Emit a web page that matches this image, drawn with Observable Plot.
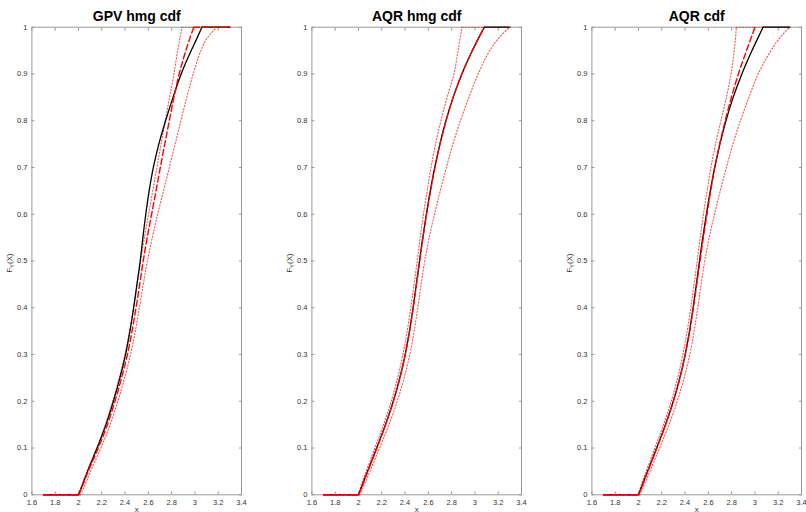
<!DOCTYPE html>
<html>
<head>
<meta charset="utf-8">
<script src="https://cdn.jsdelivr.net/npm/d3@7"></script>
<script src="https://cdn.jsdelivr.net/npm/@observablehq/plot@0.6"></script>
<style>
  html, body { margin: 0; padding: 0; background: #fff; }
  #wrap { position: relative; width: 806px; height: 512px; overflow: hidden; background: #fff; }
  .panel { position: absolute; top: 0; width: 251px; height: 512px; }
  .panel svg { max-width: none !important; }
</style>
</head>
<body>
<div id="wrap"></div>
<script>
// ---- data ----
const titles = ["GPV hmg cdf", "AQR hmg cdf", "AQR cdf"];
const xTicks = [1.6, 1.8, 2, 2.2, 2.4, 2.6, 2.8, 3, 3.2, 3.4];
const yTicks = [0, 0.1, 0.2, 0.3, 0.4, 0.5, 0.6, 0.7, 0.8, 0.9, 1];
const xStart = 1.7;   // data range start (F = 0)
const xEnd = 3.3;     // data range end (F = 1)
const yLevels = [0, 0.02, 0.05, 0.1, 0.15, 0.2, 0.25, 0.3, 0.35, 0.4, 0.45, 0.5, 0.55, 0.6, 0.65, 0.7, 0.75, 0.8, 0.85, 0.9, 0.95, 0.975, 1];

// GPV hmg cdf
const emp1 = [2.0, 2.032, 2.078, 2.16, 2.236, 2.30, 2.356, 2.404, 2.442, 2.474, 2.502, 2.53, 2.553, 2.578, 2.607, 2.643, 2.69, 2.748, 2.812, 2.882, 2.968, 3.015, 3.06];
const fit1 = [2.0, 2.035, 2.083, 2.17, 2.248, 2.313, 2.37, 2.42, 2.46, 2.494, 2.526, 2.556, 2.59, 2.628, 2.666, 2.703, 2.741, 2.78, 2.82, 2.865, 2.922, 2.955, 2.99];
const lo1  = [2.0, 2.029, 2.073, 2.156, 2.231, 2.294, 2.35, 2.399, 2.438, 2.472, 2.504, 2.534, 2.566, 2.602, 2.638, 2.673, 2.709, 2.746, 2.782, 2.82, 2.852, 2.87, 2.89];
const hi1  = [2.015, 2.053, 2.103, 2.192, 2.272, 2.338, 2.396, 2.447, 2.488, 2.523, 2.556, 2.592, 2.634, 2.68, 2.73, 2.78, 2.83, 2.88, 2.93, 2.985, 3.052, 3.10, 3.19];

// AQR hmg cdf
const emp2 = [2.0, 2.031, 2.078, 2.156, 2.232, 2.299, 2.355, 2.401, 2.438, 2.469, 2.497, 2.524, 2.552, 2.583, 2.617, 2.655, 2.699, 2.751, 2.813, 2.888, 2.978, 3.028, 3.08];
const fit2 = [2.0, 2.033, 2.08, 2.158, 2.233, 2.30, 2.356, 2.402, 2.439, 2.47, 2.498, 2.526, 2.554, 2.585, 2.619, 2.657, 2.70, 2.752, 2.813, 2.888, 2.978, 3.028, 3.08];
const lo2  = [2.0, 2.023, 2.066, 2.141, 2.215, 2.281, 2.336, 2.381, 2.418, 2.449, 2.477, 2.504, 2.530, 2.558, 2.589, 2.623, 2.662, 2.708, 2.761, 2.82, 2.855, 2.872, 2.89];
const hi2  = [2.01, 2.046, 2.098, 2.181, 2.262, 2.333, 2.392, 2.441, 2.478, 2.509, 2.538, 2.569, 2.607, 2.653, 2.702, 2.755, 2.811, 2.876, 2.948, 3.028, 3.128, 3.198, 3.3];

// AQR cdf
const emp3 = [2.0, 2.031, 2.078, 2.156, 2.232, 2.299, 2.355, 2.401, 2.438, 2.469, 2.497, 2.524, 2.552, 2.583, 2.617, 2.655, 2.699, 2.751, 2.813, 2.888, 2.975, 3.022, 3.07];
const fit3 = [2.0, 2.033, 2.08, 2.158, 2.233, 2.30, 2.356, 2.402, 2.44, 2.472, 2.50, 2.528, 2.557, 2.588, 2.62, 2.655, 2.697, 2.745, 2.798, 2.858, 2.928, 2.964, 3.0];
const lo3  = [2.0, 2.023, 2.066, 2.141, 2.215, 2.281, 2.336, 2.381, 2.418, 2.449, 2.477, 2.504, 2.530, 2.558, 2.589, 2.622, 2.662, 2.708, 2.755, 2.795, 2.822, 2.833, 2.84];
const hi3  = [2.01, 2.046, 2.098, 2.181, 2.262, 2.333, 2.392, 2.441, 2.478, 2.509, 2.538, 2.569, 2.607, 2.653, 2.702, 2.755, 2.811, 2.876, 2.948, 3.028, 3.138, 3.205, 3.3];

const panels = [
  {title: titles[0], emp: emp1, fit: fit1, lo: lo1, hi: hi1, fitFlat: true},
  {title: titles[1], emp: emp2, fit: fit2, lo: lo2, hi: hi2, fitFlat: false},
  {title: titles[2], emp: emp3, fit: fit3, lo: lo3, hi: hi3, fitFlat: false}
];

// builds the marks for one CDF curve: flat tail at 0, smooth body, flat tail at 1
function curveMarks(xs, flatEnd, style) {
  const body = xs.map((x, i) => ({x, y: yLevels[i]}));
  const marks = [
    Plot.line([{x: xStart, y: 0}, body[0]], {x: "x", y: "y", ...style}),
    Plot.line(body, {x: "x", y: "y", curve: "monotone-y", ...style})
  ];
  const last = body[body.length - 1];
  if (flatEnd && last.x < xEnd) marks.push(Plot.line([last, {x: xEnd, y: 1}], {x: "x", y: "y", ...style}));
  return marks;
}

const axisColor = "#9a9a9a";
const dotted = {stroke: "#ff2020", strokeWidth: 1.1, strokeDasharray: "1.2,2", strokeOpacity: 0.8};
const solid = {stroke: "#000", strokeWidth: 1.3};
const dashed = {stroke: "#ff0000", strokeWidth: 1.4, strokeDasharray: "6,3"};
const wrap = document.getElementById("wrap");

panels.forEach((p, i) => {
  const chart = Plot.plot({
    width: 251,
    height: 512,
    marginLeft: 31.4,
    marginRight: 10,
    marginTop: 26.7,
    marginBottom: 17.7,
    style: {fontFamily: "'Liberation Sans', Arial, sans-serif", fontSize: "7.5px", color: "#333", background: "#fff", overflow: "visible", maxWidth: "none"},
    x: {domain: [1.6, 3.4]},
    y: {domain: [0, 1]},
    marks: [
      Plot.frame({stroke: axisColor, strokeWidth: 1}),
      Plot.axisX({anchor: "bottom", ticks: xTicks, tickSize: -3, tickPadding: 8, stroke: axisColor, fill: "#333", label: null, tickFormat: d => String(d)}),
      Plot.axisX({anchor: "top", ticks: xTicks, tickSize: -3, stroke: axisColor, fill: "none", label: null}),
      Plot.axisY({anchor: "left", ticks: yTicks, tickSize: -3, tickPadding: 7.5, stroke: axisColor, fill: "#333", label: null, tickFormat: d => String(d)}),
      Plot.axisY({anchor: "right", ticks: yTicks, tickSize: -3, stroke: axisColor, fill: "none", label: null}),
      ...curveMarks(p.lo, true, dotted),
      ...curveMarks(p.hi, true, dotted),
      ...curveMarks(p.emp, true, solid),
      ...curveMarks(p.fit, p.fitFlat, dashed),
      Plot.text([p.title], {frameAnchor: "top", dy: -6, lineAnchor: "bottom", fontSize: 14, fontWeight: "bold", fill: "#000"}),
      Plot.text(["x"], {frameAnchor: "bottom", dy: 12, lineAnchor: "top", fontSize: 8, fill: "#333"})
    ]
  });
  // y-axis label with subscript
  const svg = d3.select(chart);
  const t = svg.append("text")
    .attr("transform", "translate(12,263) rotate(-90)")
    .attr("text-anchor", "middle")
    .attr("font-size", 8)
    .attr("fill", "#333")
    .attr("font-family", "'Liberation Sans', Arial, sans-serif");
  t.append("tspan").text("F");
  t.append("tspan").attr("font-size", 6).attr("dy", 2).text("Y");
  t.append("tspan").attr("dy", -2).text("(X)");
  const div = document.createElement("div");
  div.className = "panel";
  div.style.left = (i * 280) + "px";
  div.appendChild(chart);
  wrap.appendChild(div);
});
</script>
</body>
</html>
